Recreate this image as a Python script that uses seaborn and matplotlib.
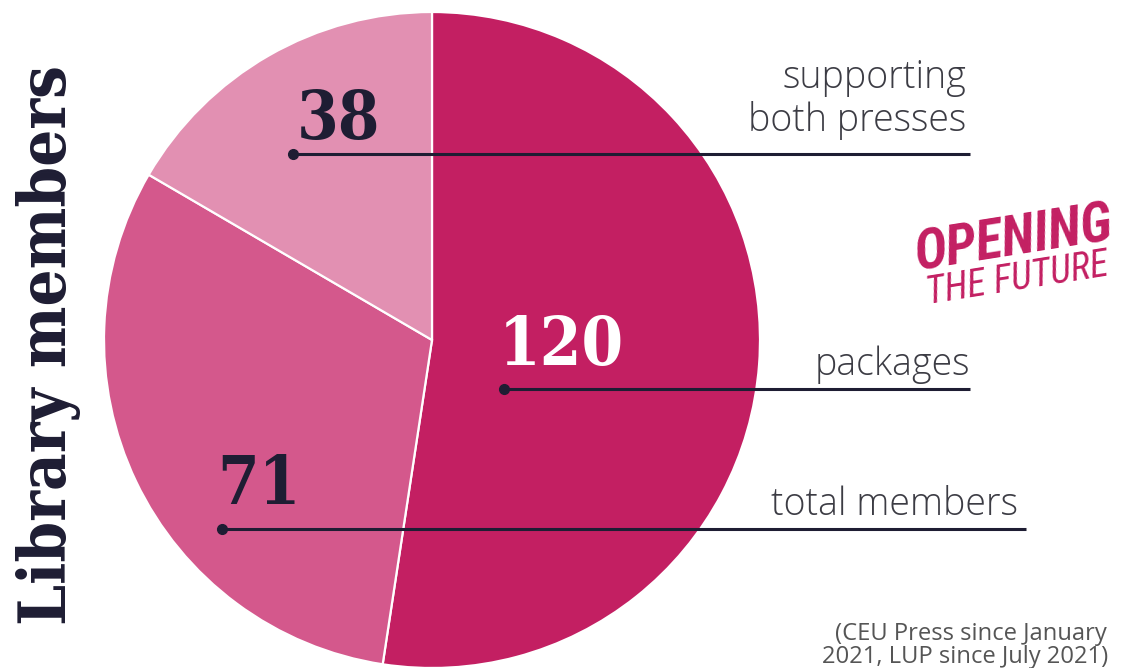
import matplotlib
matplotlib.use("Agg")
import matplotlib.pyplot as plt
import seaborn as sns
from matplotlib import font_manager as fm

# ---------------- data ----------------
segments = ["packages", "total members", "supporting both presses"]
members = [120, 71, 38]
slice_colors = ["#C31F62", "#D4588C", "#E290B2"]
number_labels = ["120", "71", "38"]
side_labels = ["supporting\nboth presses", "packages", "total members"]
title_text = "Library members"
logo_top = "OPENING"
logo_bottom = "THE FUTURE"
footnote = "(CEU Press since January\n2021, LUP since July 2021)"

sns.set_theme(style="white")

W, H = 1122, 668
NAVY = "#1E1D33"
GREY = "#3C3C44"
MAGENTA = "#C31F62"

names = {f.name for f in fm.fontManager.ttflist}
def pick(cands, default="DejaVu Sans"):
    for c in cands:
        if c in names:
            return c
    return default

SERIF = pick(["DejaVu Serif Condensed", "DejaVu Serif"], "DejaVu Serif")
LIGHT = pick(["Open Sans", "Lato", "Noto Sans"])
COND = pick(["DejaVu Sans Condensed", "Liberation Sans Narrow", "Roboto Condensed", "DejaVu Sans"])

fig = plt.figure(figsize=(W / 100, H / 100), dpi=100)
ax = fig.add_axes([0, 0, 1, 1])

def Y(y):  # pixel-from-top to data
    return H - y

ax.pie(members, colors=slice_colors, startangle=90, counterclock=False,
       center=(432, Y(340)), radius=328,
       wedgeprops=dict(edgecolor="white", linewidth=1.6))
ax.set_xlim(0, W)
ax.set_ylim(0, H)
ax.set_aspect("equal")
ax.axis("off")

renderer = fig.canvas.get_renderer()

def fit_width(t, target):
    for _ in range(3):
        bb = t.get_window_extent(renderer)
        t.set_fontsize(t.get_fontsize() * target / bb.width)

# leader lines with dots
leaders = [(293, 970, 154), (504, 970, 389), (222, 1026, 529)]
for x0, x1, y in leaders:
    ax.plot([x0, x1], [Y(y), Y(y)], color=NAVY, lw=2.2, solid_capstyle="butt", zorder=3)
    ax.plot([x0], [Y(y)], "o", color=NAVY, ms=7, zorder=4)

# big numbers
num_pos = [(561, 339, "white"), (259, 479, NAVY), (339, 113, NAVY)]
for lab, (x, y, c) in zip(number_labels, num_pos):
    ax.text(x, Y(y), lab, fontsize=48, family=SERIF, weight="bold",
            stretch="condensed", color=c, ha="center", va="center_baseline",
            zorder=5)

# side labels
t = ax.text(1018, Y(515), "total members", fontsize=27, family=LIGHT,
            weight="light", color=GREY, ha="right", va="baseline")
fit_width(t, 247)
lab_fs = t.get_fontsize()
ax.text(970, Y(375), "packages", fontsize=lab_fs, family=LIGHT, weight="light",
        color=GREY, ha="right", va="baseline")
ax.text(966, Y(88), "supporting", fontsize=lab_fs, family=LIGHT, weight="light",
        color=GREY, ha="right", va="baseline")
ax.text(966, Y(131), "both presses", fontsize=lab_fs, family=LIGHT, weight="light",
        color=GREY, ha="right", va="baseline")

# vertical title
tt = ax.text(66, Y(345), title_text, fontsize=47, family=SERIF, weight="bold",
             stretch="condensed", color=NAVY, ha="center", va="baseline")
fit_width(tt, 560)
tt.set_rotation(90)
tt.set_rotation_mode("anchor")

# logo
lt = ax.text(917, Y(271), logo_top, fontsize=40, family=COND, weight="bold",
             style="italic", stretch="condensed", color=MAGENTA,
             ha="left", va="baseline")
fit_width(lt, 200)
lt.set_rotation(9)
lt.set_rotation_mode("anchor")
lb = ax.text(928, Y(304), logo_bottom, fontsize=24, family=COND, weight="normal",
             style="italic", stretch="condensed", color=MAGENTA,
             ha="left", va="baseline")
fit_width(lb, 184)
lb.set_rotation(9)
lb.set_rotation_mode("anchor")

# footnote
fl = footnote.split("\n")
f1 = ax.text(1107, Y(640), fl[0], fontsize=16, family=LIGHT, color="#555555",
             ha="right", va="baseline")
fit_width(f1, 272)
ax.text(1108, Y(663), fl[1], fontsize=f1.get_fontsize(), family=LIGHT,
        color="#555555", ha="right", va="baseline")

fig.savefig("out.png", dpi=100, facecolor="white")
